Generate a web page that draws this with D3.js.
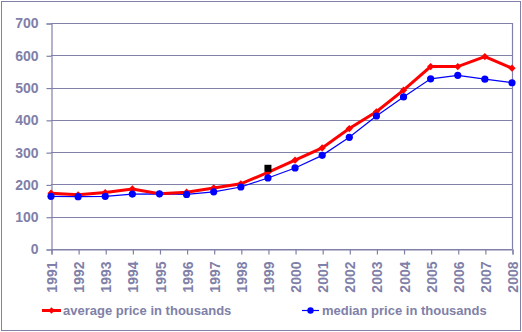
<!DOCTYPE html>
<html>
<head>
<meta charset="utf-8">
<script src="https://cdn.jsdelivr.net/npm/d3@7"></script>
<style>
  html, body { margin: 0; padding: 0; background: #fff; }
  svg { display: block; }
  text { font-family: "Liberation Sans", Arial, sans-serif; }
</style>
</head>
<body>
<svg id="chart" width="522" height="332"></svg>
<script>
const years = [1991,1992,1993,1994,1995,1996,1997,1998,1999,2000,2001,2002,2003,2004,2005,2006,2007,2008];
const averagePrice = [173,168,175,186,171,176,189,202,237,275,313,373,425,492,565,565,596,560];
const medianPrice  = [163,162,163,170,171,169,177,192,220,251,290,346,412,471,527,538,526,515];
const yTicks = [0,100,200,300,400,500,600,700];
const strayPoint = { year: 1999, value: 250 };
const seriesNames = ["average price in thousands", "median price in thousands"];

(function () {
const axisColor = "#8080a8";
const svg = d3.select("#chart");

// outer border
svg.append("rect").attr("x", 1.5).attr("y", 1.5).attr("width", 519).attr("height", 329)
  .attr("fill", "none").attr("stroke", axisColor).attr("stroke-width", 1);

const pLeft = 51, pRight = 512, pTop = 23, pBottom = 249;
const x = d3.scalePoint().domain(years).range([pLeft, pRight]);
const y = d3.scaleLinear().domain([0, 700]).range([pBottom, pTop]);

// gridlines
svg.append("g").selectAll("line").data(yTicks).join("line")
  .attr("x1", pLeft).attr("x2", pRight)
  .attr("y1", d => Math.round(y(d)) + 0.5).attr("y2", d => Math.round(y(d)) + 0.5)
  .attr("stroke", axisColor).attr("stroke-width", 1.2);
// right border of plot
svg.append("line").attr("x1", pRight + 0.5).attr("x2", pRight + 0.5)
  .attr("y1", pTop).attr("y2", pBottom + 0.5).attr("stroke", axisColor).attr("stroke-width", 1.2);

// y axis
const yAxis = d3.axisLeft(y).tickValues(yTicks).tickSize(5).tickPadding(8);
const gy = svg.append("g").attr("transform", `translate(${pLeft + 0.5},0.5)`).call(yAxis);
gy.select(".domain").attr("stroke", axisColor).attr("stroke-width", 1.2);
gy.selectAll(".tick line").attr("stroke", axisColor).attr("stroke-width", 1.2);
gy.selectAll(".tick text").attr("fill", axisColor)
  .style("font-size", "14px").style("font-weight", "bold")
  .attr("x", -13);

// x axis (clipped at the bottom like the reference)
svg.append("clipPath").attr("id", "xclip").append("rect")
  .attr("x", 0).attr("y", 240).attr("width", 522).attr("height", 54);
const xWrap = svg.append("g").attr("clip-path", "url(#xclip)");
const xAxis = d3.axisBottom(x).tickSize(5).tickPadding(4);
const gx = xWrap.append("g").attr("transform", `translate(0.5,${pBottom + 0.5})`).call(xAxis);
gx.select(".domain").attr("stroke", axisColor).attr("stroke-width", 1.2);
gx.selectAll(".tick line").attr("stroke", axisColor).attr("stroke-width", 1.2);
gx.selectAll(".tick text").attr("fill", axisColor)
  .style("font-size", "14px").style("font-weight", "bold")
  .attr("transform", "rotate(-90)")
  .attr("text-anchor", "end")
  .attr("x", -12).attr("y", 0).attr("dy", "0.36em");

// series
const line = d3.line().x((d, i) => x(years[i])).y(d => y(d));

svg.append("path").datum(medianPrice).attr("d", line)
  .attr("fill", "none").attr("stroke", "#0000ff").attr("stroke-width", 1.2);
svg.append("path").datum(averagePrice).attr("d", line)
  .attr("fill", "none").attr("stroke", "#ff0000").attr("stroke-width", 3);

svg.append("g").selectAll("path").data(averagePrice).join("path")
  .attr("d", d3.symbol().type(d3.symbolSquare).size(26))
  .attr("transform", (d, i) => `translate(${x(years[i])},${y(d)}) rotate(45)`)
  .attr("fill", "#ff0000");

svg.append("g").selectAll("circle").data(medianPrice).join("circle")
  .attr("cx", (d, i) => x(years[i])).attr("cy", d => y(d)).attr("r", 3.6)
  .attr("fill", "#0000ff");

// stray black marker
svg.append("rect")
  .attr("x", x(strayPoint.year) - 3.5).attr("y", y(strayPoint.value) - 3.5)
  .attr("width", 7).attr("height", 7).attr("fill", "#000");

// legend
const legend = [
  { name: seriesNames[0], color: "#ff0000", x0: 42, x1: 61, tx: 63, w: 3, sym: "diamond" },
  { name: seriesNames[1], color: "#0000ff", x0: 302, x1: 319, tx: 322, w: 1.2, sym: "circle" }
];
const ly = 310.5;
legend.forEach(l => {
  svg.append("line").attr("x1", l.x0).attr("x2", l.x1).attr("y1", ly).attr("y2", ly)
    .attr("stroke", l.color).attr("stroke-width", l.w);
  const cx = (l.x0 + l.x1) / 2;
  if (l.sym === "diamond") {
    svg.append("path").attr("d", d3.symbol().type(d3.symbolSquare).size(22))
      .attr("transform", `translate(${cx},${ly}) rotate(45)`).attr("fill", l.color);
  } else {
    svg.append("circle").attr("cx", cx).attr("cy", ly).attr("r", 3.2).attr("fill", l.color);
  }
  svg.append("text").attr("x", l.tx).attr("y", ly).attr("dy", "0.35em")
    .attr("fill", axisColor).style("font-size", "13px").style("font-weight", "bold")
    .text(l.name);
});
})();
</script>
</body>
</html>
